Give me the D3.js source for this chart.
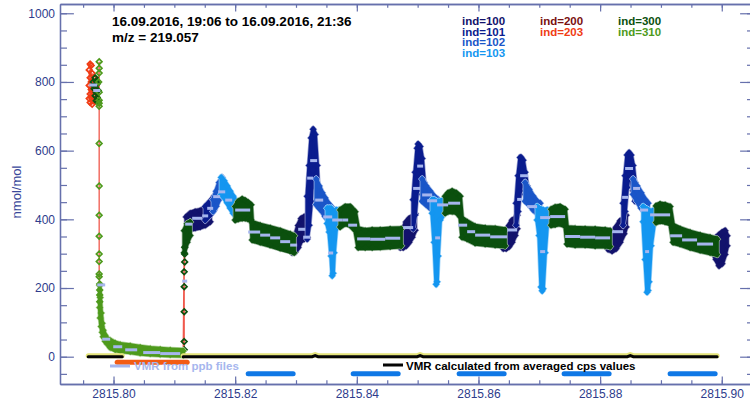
<!DOCTYPE html>
<html>
<head>
<meta charset="utf-8">
<script src="https://cdn.jsdelivr.net/npm/d3@7/dist/d3.min.js"></script>
<style>
  html, body { margin: 0; padding: 0; background: #ffffff; }
  svg { display: block; }
</style>
</head>
<body>
<svg id="chart" width="750" height="405"></svg>
<script>
// ---------------- data ----------------
// time axis in days, mixing ratio in nmol/mol
const xDomain = [2815.7912, 2815.9053];
const yDomain = [-79.5, 1027];

const xTickValues = [2815.80, 2815.82, 2815.84, 2815.86, 2815.88, 2815.90];
const xTickLabels = ["2815.80", "2815.82", "2815.84", "2815.86", "2815.88", "2815.90"];
const yTickValues = [0, 200, 400, 600, 800, 1000];
const yTickLabels = ["0", "200", "400", "600", "800", "1000"];

const titleText = "16.09.2016, 19:06 to 16.09.2016, 21:36";
const massText = "m/z = 219.057";
const yAxisTitle = "nmol/mol";
const ppbLegend = "VMR from ppb files";
const cpsLegend = "VMR calculated from averaged cps values";

const legendCols = [
  ["ind=100", "ind=101", "ind=102", "ind=103"],
  ["ind=200", "ind=203"],
  ["ind=300", "ind=310"]
];

// dense point clouds per index: segments of [time, low edge, high edge]
const ind100Bands = [
  [[2815.81195,360,410],[2815.81260,368,420],[2815.81342,372,425],[2815.81425,375,428],[2815.81507,380,435],[2815.81589,390,445]],
  [[2815.82937,300,345],[2815.82986,302,355],[2815.83036,315,385],[2815.83085,335,405],[2815.83134,340,410],[2815.83184,345,415]],
  [[2815.84713,315,360],[2815.84762,315,375],[2815.84811,320,395],[2815.84860,330,405],[2815.84910,345,410],[2815.84959,365,420]],
  [[2815.86408,312,350],[2815.86455,312,365],[2815.86504,318,385],[2815.86553,330,400],[2815.86603,350,405],[2815.86636,370,415]],
  [[2815.88131,310,345],[2815.88197,305,360],[2815.88263,312,380],[2815.88329,330,398],[2815.88394,355,405],[2815.88427,375,415]],
  [[2815.89857,300,340],[2815.89907,280,350],[2815.89956,262,358],[2815.90005,268,365],[2815.90055,295,370],[2815.90088,320,355]]
];
const ind101Bands = [
  [[2815.81507,395,440],[2815.81589,410,455],[2815.81655,425,470]],
  [[2815.83184,340,470],[2815.83216,380,560],[2815.83249,450,640],[2815.83282,540,665],[2815.83315,500,650],[2815.83348,450,560],[2815.83364,440,500]],
  [[2815.84926,370,460],[2815.84959,410,540],[2815.84992,480,610],[2815.85008,530,622],[2815.85041,520,615],[2815.85074,470,580],[2815.85107,450,510]],
  [[2815.86619,380,450],[2815.86652,420,530],[2815.86685,480,583],[2815.86701,520,583],[2815.86734,510,575],[2815.86767,470,540],[2815.86800,450,500]],
  [[2815.88378,380,450],[2815.88411,420,530],[2815.88444,490,590],[2815.88477,530,597],[2815.88509,520,590],[2815.88542,480,560],[2815.88575,450,510]]
];
const ind102Bands = [
  [[2815.81638,420,460],[2815.81688,435,485],[2815.81737,455,510],[2815.81786,475,525]],
  [[2815.83332,440,520],[2815.83381,430,500],[2815.83430,420,480],[2815.83479,405,465],[2815.83529,395,450],[2815.83578,390,440]],
  [[2815.85074,450,520],[2815.85140,440,500],[2815.85205,430,485],[2815.85271,425,470],[2815.85337,420,460]],
  [[2815.86767,450,510],[2815.86833,440,490],[2815.86899,425,470],[2815.86964,415,455],[2815.87014,410,450]],
  [[2815.88542,470,520],[2815.88608,450,500],[2815.88674,430,480],[2815.88740,415,460],[2815.88789,410,450]]
];
const ind103Bands = [
  [[2815.81770,470,525],[2815.81819,460,515],[2815.81869,445,500],[2815.81918,430,485],[2815.81967,415,470],[2815.82016,405,455],[2815.82049,400,445]],
  [[2815.83512,385,435],[2815.83545,360,435],[2815.83578,290,435],[2815.83595,233,430],[2815.83611,240,425],[2815.83627,300,425],[2815.83660,370,430],[2815.83710,385,430],[2815.83759,390,430]],
  [[2815.85238,415,460],[2815.85271,330,460],[2815.85304,208,455],[2815.85320,215,450],[2815.85337,290,455],[2815.85370,395,455],[2815.85436,415,460],[2815.85485,420,462]],
  [[2815.86964,395,440],[2815.86997,350,435],[2815.87030,200,432],[2815.87047,189,430],[2815.87063,195,430],[2815.87096,300,428],[2815.87129,380,430],[2815.87194,390,430]],
  [[2815.88707,390,440],[2815.88740,280,435],[2815.88772,185,432],[2815.88789,190,430],[2815.88805,215,428],[2815.88838,320,425],[2815.88888,385,430],[2815.88920,390,430]]
];
const ind300Bands = [
  [[2815.81162,300,370],[2815.81211,330,390],[2815.81260,350,395]],
  [[2815.82000,395,440],[2815.82049,398,455],[2815.82115,400,462],[2815.82164,400,458],[2815.82214,398,452],[2815.82263,395,445],
   [2815.82280,337,393],[2815.82411,330,385],[2815.82575,322,378],[2815.82740,313,370],[2815.82904,305,360],[2815.82970,300,355]],
  [[2815.83726,375,430],[2815.83808,385,440],[2815.83890,380,440],[2815.83973,365,425],[2815.84022,315,375],[2815.84137,315,370],
   [2815.84252,315,372],[2815.84384,316,372],[2815.84548,318,374],[2815.84729,320,375]],
  [[2815.85452,415,470],[2815.85501,420,480],[2815.85567,420,485],[2815.85633,418,480],[2815.85699,405,470],[2815.85731,345,405],
   [2815.85814,340,395],[2815.85945,328,382],[2815.86110,325,378],[2815.86274,322,376],[2815.86438,320,372]],
  [[2815.87194,380,432],[2815.87260,382,438],[2815.87342,385,440],[2815.87425,378,432],[2815.87457,325,378],[2815.87589,322,376],
   [2815.87753,322,375],[2815.87918,320,374],[2815.88082,320,372],[2815.88164,318,370]],
  [[2815.88920,388,442],[2815.88986,392,447],[2815.89068,390,445],[2815.89151,385,440],[2815.89200,330,385],[2815.89315,325,375],
   [2815.89479,315,365],[2815.89644,307,357],[2815.89808,300,350],[2815.89923,295,345]]
];
const ind310Bands = [
  [[2815.79773,140,210],[2815.79781,110,175],[2815.79797,85,130],[2815.79814,68,100],[2815.79830,55,80],[2815.79863,42,65],
   [2815.79896,35,55],[2815.79945,24,50],[2815.80027,18,42],[2815.80110,15,38],[2815.80274,12,34],[2815.80438,8,30],
   [2815.80603,6,26],[2815.80767,4,24],[2815.80932,3,22],[2815.81145,2,20]]
];

// isolated points [time, value]
const ind200Points = [[2815.81030, 14], [2815.81080, 12]];
const ind203Points = [
  [2815.79600,835],[2815.79616,812],[2815.79633,848],[2815.79600,790],[2815.79616,765],[2815.79633,800],[2815.79649,780],
  [2815.79616,740],[2815.79633,755],[2815.79649,825],[2815.79666,770],[2815.79682,810],[2815.79649,735],[2815.79666,795],
  [2815.79600,752],[2815.79682,760],[2815.79699,785],[2815.79616,852],[2815.79633,778],[2815.79666,745]
];
const ind300Points = [
  [2815.79666,800],[2815.79682,788],[2815.79699,812],[2815.79715,770],[2815.79699,760],[2815.79732,795],[2815.79715,745],
  [2815.79748,775],[2815.79732,755],[2815.79682,780],[2815.79715,803],[2815.79748,742],
  [2815.81162,20],[2815.81162,44],[2815.81162,131],[2815.81162,204],[2815.81162,247],[2815.81170,276],[2815.81170,299],[2815.81170,319]
];
const ind310Points = [
  [2815.79764,859],[2815.79764,840],[2815.79764,826],[2815.79756,800],[2815.79764,770],[2815.79764,747],[2815.79764,738],
  [2815.79764,729],[2815.79764,621],[2815.79764,497],[2815.79764,412],[2815.79764,351],[2815.79764,299],[2815.79764,277],
  [2815.79764,241],[2815.79764,233],[2815.79773,212],[2815.79773,194],[2815.79773,180],[2815.79773,160]
];

// averaged VMR from ppb files: [start, end, value]
const ppbAverages = [
  [2815.79600,2815.79732,791],[2815.79666,2815.79781,775],[2815.79732,2815.79863,209],[2815.79814,2815.79945,51],
  [2815.79995,2815.80143,29],[2815.80192,2815.80389,20],[2815.80488,2815.80767,12],[2815.80767,2815.81096,9],
  [2815.81129,2815.81211,220],[2815.81178,2815.81293,386],[2815.81293,2815.81458,403],[2815.81458,2815.81556,410],
  [2815.81540,2815.81638,432],[2815.81638,2815.81753,466],[2815.81720,2815.81836,480],[2815.81836,2815.81951,456],
  [2815.82000,2815.82247,427],[2815.82214,2815.82411,363],[2815.82411,2815.82575,354],[2815.82575,2815.82740,346],
  [2815.82740,2815.82904,335],[2815.82904,2815.83019,325],[2815.83036,2815.83151,371],[2815.83118,2815.83233,348],
  [2815.83184,2815.83282,520],[2815.83233,2815.83348,571],[2815.83315,2815.83447,456],[2815.83447,2815.83595,407],
  [2815.83529,2815.83611,302],[2815.83595,2815.83759,398],[2815.83759,2815.83858,398],[2815.83858,2815.84005,383],
  [2815.84005,2815.84219,343],[2815.84219,2815.84466,342],[2815.84466,2815.84713,345],[2815.84762,2815.84926,376],
  [2815.84926,2815.85041,490],[2815.84992,2815.85090,555],[2815.85074,2815.85238,471],[2815.85156,2815.85320,454],
  [2815.85288,2815.85370,346],[2815.85320,2815.85501,442],[2815.85501,2815.85699,447],[2815.85666,2815.85814,383],
  [2815.85814,2815.85945,364],[2815.85945,2815.86192,354],[2815.86192,2815.86471,349],[2815.86471,2815.86636,369],
  [2815.86636,2815.86718,458],[2815.86685,2815.86816,527],[2815.86800,2815.86964,437],[2815.87014,2815.87096,306],
  [2815.87014,2815.87178,405],[2815.87178,2815.87425,408],[2815.87425,2815.87671,350],[2815.87671,2815.87918,348],
  [2815.87918,2815.88164,346],[2815.88197,2815.88378,364],[2815.88362,2815.88460,464],[2815.88411,2815.88542,548],
  [2815.88542,2815.88657,490],[2815.88657,2815.88789,427],[2815.88740,2815.88805,306],[2815.88822,2815.89151,413],
  [2815.89151,2815.89348,352],[2815.89348,2815.89594,340],[2815.89594,2815.89857,328]
];

// VMR from averaged cps values: segments of [time, value]
const cpsLine = [
  [[2815.79584,0],[2815.80143,0]],
  [[2815.81145,0],[2815.83266,0],[2815.83315,3],[2815.83364,0],[2815.84992,0],[2815.85041,3],[2815.85090,0],
   [2815.88447,0],[2815.88496,3],[2815.88546,0],[2815.89923,0]]
];

// measurement intervals shown as bars: [start, end, level]
const calibBars = [
  [2815.82214,2815.82953,-50],[2815.83940,2815.84680,-50],[2815.85682,2815.86422,-50],
  [2815.87408,2815.88148,-50],[2815.89151,2815.89891,-50]
];
const ppbBar = [[2815.80060,2815.81211,-16]];

// ---------------- styles ----------------
const colors = {
  "ind=100": "#12126c",
  "ind=101": "#0a1c8e",
  "ind=102": "#1a56c8",
  "ind=103": "#1496f0",
  "ind=200": "#7a1010",
  "ind=203": "#f03c14",
  "ind=300": "#0b500e",
  "ind=310": "#4e9a1c"
};
const axisColor = "#6670ac";
const tickTextColor = "#2e3c8c";
const traceColor = "#f0584c";
const ppbColor = "#a6b6ee";
const barColor = "#0f78e6";
const ppbBarColor = "#f25c14";

// ---------------- drawing ----------------
const svg = d3.select("#chart");
const plotL = 60, plotR = 754, plotT = 4, plotB = 384;
const x = d3.scaleLinear().domain(xDomain).range([plotL, plotR]);
const y = d3.scaleLinear().domain(yDomain).range([plotB, plotT]);

svg.append("defs").append("clipPath").attr("id", "plotclip")
  .append("rect").attr("x", plotL).attr("y", plotT)
  .attr("width", plotR - plotL).attr("height", plotB - plotT);

const plot = svg.append("g").attr("clip-path", "url(#plotclip)");

const diamond = r => `M0,${-r}L${r},0L0,${r}L${-r},0Z`;

// thin trace connecting all samples in time order
const trace = [];
const bandSets = [
  ["ind=100", ind100Bands], ["ind=101", ind101Bands], ["ind=102", ind102Bands],
  ["ind=103", ind103Bands], ["ind=300", ind300Bands], ["ind=310", ind310Bands]
];
const pointSets = [
  ["ind=200", ind200Points], ["ind=203", ind203Points],
  ["ind=300", ind300Points], ["ind=310", ind310Points]
];
bandSets.forEach(([, segs]) => segs.forEach(seg => seg.forEach(d => trace.push([d[0], (d[1] + d[2]) / 2]))));
pointSets.forEach(([, pts]) => pts.forEach(d => trace.push(d)));
trace.sort((a, b) => a[0] - b[0]);

plot.append("path")
  .attr("d", d3.line().x(d => x(d[0])).y(d => y(d[1]))(trace))
  .attr("fill", "none").attr("stroke", traceColor).attr("stroke-width", 1.3);

// order follows the index numbers, later indices on top
const drawOrder = ["ind=100", "ind=101", "ind=102", "ind=103", "ind=200", "ind=203", "ind=300", "ind=310"];
const area = d3.area().x(d => x(d[0])).y0(d => y(d[1])).y1(d => y(d[2]));

drawOrder.forEach(name => {
  const col = colors[name];
  const halo = d3.interpolateRgb(col, "#ffffff")(0.6);
  const bs = bandSets.find(b => b[0] === name);
  if (bs) {
    const g = plot.append("g");
    bs[1].forEach(seg => {
      // point markers along the cloud edges
      const marks = [];
      seg.forEach(d => {
        const y1 = y(d[2]), y0 = y(d[1]);
        if (y0 - y1 > 5) { marks.push([x(d[0]), y1 + 1]); marks.push([x(d[0]), y0 - 1]); }
        else marks.push([x(d[0]), (y0 + y1) / 2]);
      });
      // light rim under the markers and the cloud
      g.append("path").attr("d", area(seg))
        .attr("fill", halo).attr("stroke", halo).attr("stroke-width", 5)
        .attr("stroke-linejoin", "round");
      g.selectAll(null).data(marks).join("path")
        .attr("transform", d => `translate(${d[0]},${d[1]})`)
        .attr("d", diamond(4.2))
        .attr("fill", halo);
      // solid cloud
      g.append("path").attr("d", area(seg))
        .attr("fill", col).attr("stroke", col).attr("stroke-width", 3.5)
        .attr("stroke-linejoin", "round");
      g.selectAll(null).data(marks).join("path")
        .attr("transform", d => `translate(${d[0]},${d[1]})`)
        .attr("d", diamond(3.4))
        .attr("fill", col);
    });
  }
  const ps = pointSets.find(p => p[0] === name);
  if (ps) {
    plot.append("g").selectAll(null).data(ps[1]).join("path")
      .attr("transform", d => `translate(${x(d[0])},${y(d[1])})`)
      .attr("d", diamond(2.8))
      .attr("fill", "none").attr("stroke", col).attr("stroke-width", 1.7);
  }
});

// averaged ppb values as short horizontal strokes
plot.append("g").selectAll(null).data(ppbAverages).join("line")
  .attr("x1", d => x(d[0])).attr("x2", d => x(d[1]))
  .attr("y1", d => y(d[2])).attr("y2", d => y(d[2]))
  .attr("stroke", ppbColor).attr("stroke-width", 3);

// cps-derived VMR line with its light rim
const cpsPath = d3.line().x(d => x(d[0])).y(d => y(d[1]));
cpsLine.forEach(seg => {
  plot.append("path").attr("d", cpsPath(seg)).attr("transform", "translate(0,-1)")
    .attr("fill", "none").attr("stroke", "#e4e47a").attr("stroke-width", 5)
    .attr("stroke-linecap", "round");
  plot.append("path").attr("d", cpsPath(seg))
    .attr("fill", "none").attr("stroke", "#050505").attr("stroke-width", 3)
    .attr("stroke-linecap", "round");
});

// interval bars
plot.append("g").selectAll(null).data(calibBars).join("line")
  .attr("x1", d => x(d[0])).attr("x2", d => x(d[1]))
  .attr("y1", d => y(d[2])).attr("y2", d => y(d[2]))
  .attr("stroke", barColor).attr("stroke-width", 5).attr("stroke-linecap", "round");
plot.append("g").selectAll(null).data(ppbBar).join("line")
  .attr("x1", d => x(d[0])).attr("x2", d => x(d[1]))
  .attr("y1", d => y(d[2])).attr("y2", d => y(d[2]))
  .attr("stroke", ppbBarColor).attr("stroke-width", 5).attr("stroke-linecap", "round");

// ---------------- axes ----------------
const xMinor = d3.range(0, 23).map(i => 2815.795 + i * 0.005);
const yMinor = d3.range(-50, 1001, 50);
const majX = 7.6, minX = 3.8, majY = 13.9, minY = 7;

function styleAxis(g) {
  g.select(".domain").attr("stroke", axisColor).attr("stroke-width", 1.3);
  g.selectAll(".tick line").attr("stroke", axisColor).attr("stroke-width", 1.2);
  g.selectAll(".tick text").attr("fill", tickTextColor)
    .attr("font-family", "'Liberation Sans', Arial, sans-serif").attr("font-size", 12);
}

// bottom
svg.append("g").attr("transform", `translate(0,${plotB})`)
  .call(d3.axisBottom(x).tickValues(xMinor).tickSize(-minX).tickSizeOuter(0).tickFormat(""))
  .call(styleAxis);
svg.append("g").attr("transform", `translate(0,${plotB})`)
  .call(d3.axisBottom(x).tickValues(xTickValues).tickSize(-majX).tickSizeOuter(0)
    .tickFormat((d, i) => xTickLabels[i]).tickPadding(5.5))
  .call(styleAxis);
// top
svg.append("g").attr("transform", `translate(0,${plotT})`)
  .call(d3.axisTop(x).tickValues(xMinor).tickSize(-minX).tickSizeOuter(0).tickFormat(""))
  .call(styleAxis);
svg.append("g").attr("transform", `translate(0,${plotT})`)
  .call(d3.axisTop(x).tickValues(xTickValues).tickSize(-majX).tickSizeOuter(0).tickFormat(""))
  .call(styleAxis);
// left
svg.append("g").attr("transform", `translate(${plotL},0)`)
  .call(d3.axisLeft(y).tickValues(yMinor).tickSize(-minY).tickSizeOuter(0).tickFormat(""))
  .call(styleAxis);
svg.append("g").attr("transform", `translate(${plotL},0)`)
  .call(d3.axisLeft(y).tickValues(yTickValues).tickSize(-majY).tickSizeOuter(0)
    .tickFormat((d, i) => yTickLabels[i]).tickPadding(5))
  .call(styleAxis);
// right
svg.append("g").attr("transform", `translate(${plotR},0)`)
  .call(d3.axisRight(y).tickValues(yMinor).tickSize(-minY).tickSizeOuter(0).tickFormat(""))
  .call(styleAxis);
svg.append("g").attr("transform", `translate(${plotR},0)`)
  .call(d3.axisRight(y).tickValues(yTickValues).tickSize(-majY).tickSizeOuter(0).tickFormat(""))
  .call(styleAxis);

svg.append("text")
  .attr("transform", "translate(21,192) rotate(-90)")
  .attr("text-anchor", "middle")
  .attr("font-family", "'Liberation Sans', Arial, sans-serif").attr("font-size", 13)
  .attr("fill", "#3a489a").text(yAxisTitle);

// ---------------- annotations ----------------
const boldFont = "'Liberation Sans', Arial, sans-serif";
svg.append("text").attr("x", 112).attr("y", 26)
  .attr("font-family", boldFont).attr("font-weight", "bold").attr("font-size", 13.5)
  .attr("fill", "#000").text(titleText);
svg.append("text").attr("x", 112).attr("y", 42)
  .attr("font-family", boldFont).attr("font-weight", "bold").attr("font-size", 13.5)
  .attr("fill", "#000").text(massText);

const colX = [462, 540, 618];
legendCols.forEach((col, ci) => {
  col.forEach((name, ri) => {
    svg.append("text").attr("x", colX[ci]).attr("y", 25 + ri * 10.7)
      .attr("font-family", boldFont).attr("font-weight", "bold").attr("font-size", 11.5)
      .attr("fill", colors[name]).text(name);
  });
});

// ppb legend entry (drawn over the orange bar)
svg.append("line").attr("x1", 110).attr("x2", 130).attr("y1", 366).attr("y2", 366)
  .attr("stroke", ppbColor).attr("stroke-width", 3);
svg.append("text").attr("x", 134).attr("y", 370)
  .attr("font-family", boldFont).attr("font-weight", "bold").attr("font-size", 11.5)
  .attr("fill", ppbColor).text(ppbLegend);

// cps legend entry
svg.append("line").attr("x1", 383).attr("x2", 403).attr("y1", 365).attr("y2", 365)
  .attr("stroke", "#050505").attr("stroke-width", 3);
svg.append("text").attr("x", 406).attr("y", 369.5)
  .attr("font-family", boldFont).attr("font-weight", "bold").attr("font-size", 11.5)
  .attr("fill", "#000").text(cpsLegend);
</script>
</body>
</html>
